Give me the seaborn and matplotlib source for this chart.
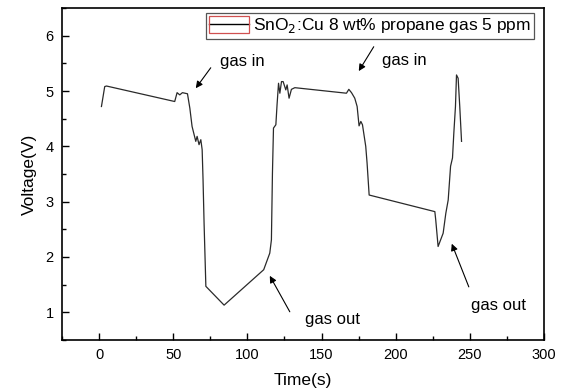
import matplotlib
matplotlib.use("Agg")
import matplotlib.pyplot as plt
import seaborn as sns
import pandas as pd
from matplotlib.legend_handler import HandlerLine2D
from matplotlib.patches import Rectangle
from matplotlib.ticker import MultipleLocator

time_s = [1.6, 3.8, 5.0, 51.0, 52.6, 54.4, 56.2, 59.6, 61.2, 62.7, 65.2, 66.1, 67.4, 68.6,
          69.5, 70.1, 70.8, 72.0, 84.3, 111.0, 115.1, 116.2, 116.9, 117.6, 119.2, 120.0,
          121.0, 121.9, 123.0, 124.1, 125.9, 126.8, 128.1, 129.7, 132.0, 166.8, 168.4,
          170.2, 172.4, 174.0, 175.3, 176.5, 177.6, 179.8, 180.7, 182.1, 226.4, 227.0,
          228.6, 232.0, 233.8, 235.4, 237.0, 238.3, 239.2, 240.3, 241.0, 242.1, 243.2, 244.4]
voltage = [4.72, 5.08, 5.09, 4.81, 4.97, 4.93, 4.97, 4.95, 4.69, 4.36, 4.09, 4.18, 4.03, 4.12,
           3.94, 3.40, 2.61, 1.47, 1.13, 1.77, 2.07, 2.31, 3.52, 4.33, 4.39, 4.75,
           5.14, 4.96, 5.17, 5.17, 5.02, 5.11, 4.87, 5.03, 5.06, 4.96, 5.03,
           4.97, 4.87, 4.72, 4.37, 4.45, 4.39, 4.00, 3.70, 3.12, 2.82, 2.67,
           2.19, 2.43, 2.79, 3.03, 3.64, 3.79, 4.24, 4.72, 5.29, 5.23, 4.72, 4.09]

series_label = "SnO$_2$:Cu 8 wt% propane gas 5 ppm"

# annotations: text, text position (x, y), arrow tail, arrow head
notes = ["gas in", "gas in", "gas out", "gas out"]
note_xy = [(81.4, 5.53), (190.6, 5.56), (138.6, 0.87), (250.6, 1.13)]
arrow_tail = [(75.3, 5.42), (185.2, 5.80), (128.6, 1.01), (249.3, 1.46)]
arrow_head = [(65.2, 5.05), (175.1, 5.36), (115.1, 1.66), (237.8, 2.24)]

plt.rcParams['font.family'] = ['Liberation Sans', 'DejaVu Sans']

df = pd.DataFrame({"Time(s)": time_s, "Voltage(V)": voltage})

fig = plt.figure(figsize=(5.63, 3.9), dpi=100)
ax = fig.add_axes([62/563, 1 - 340/390, (544-62)/563, (340-8)/390])
sns.lineplot(data=df, x="Time(s)", y="Voltage(V)", sort=False, estimator=None,
             color="#2a2a2a", linewidth=0.9, ax=ax, label=series_label)

ax.set_xlim(-25, 300)
ax.set_ylim(0.5, 6.5)
ax.xaxis.set_major_locator(MultipleLocator(50))
ax.xaxis.set_minor_locator(MultipleLocator(25))
ax.yaxis.set_major_locator(MultipleLocator(1))
ax.yaxis.set_minor_locator(MultipleLocator(0.5))
ax.tick_params(which='both', direction='in', top=False, right=False, labelsize=10.5)
ax.tick_params(which='major', length=5, width=1, pad=6)
ax.tick_params(which='minor', length=3, width=1)
for s in ax.spines.values():
    s.set_linewidth(1.2)
ax.set_xlabel("Time(s)", fontsize=12.5, labelpad=8)
ax.set_ylabel("Voltage(V)", fontsize=12.5, labelpad=6)


class BoxedLine(HandlerLine2D):
    def create_artists(self, legend, orig_handle, xdescent, ydescent, width, height, fontsize, trans):
        arts = super().create_artists(legend, orig_handle, xdescent, ydescent, width, height, fontsize, trans)
        yc = arts[0].get_ydata()[0]
        h = fontsize * 1.0
        r = Rectangle((-xdescent, yc - h / 2), width, h,
                      fill=False, edgecolor="#d05050", linewidth=0.9, transform=trans)
        return list(arts) + [r]


leg = ax.legend(loc="upper right", bbox_to_anchor=(0.979, 0.985), borderaxespad=0,
                fontsize=12.5, frameon=True, fancybox=False, edgecolor="#555555",
                framealpha=1, handlelength=2.3, handletextpad=0.2, borderpad=0.2,
                handler_map={plt.Line2D: BoxedLine()})
leg.get_frame().set_linewidth(0.9)
for ln in leg.get_lines():
    ln.set_color("black")
    ln.set_linewidth(1.0)

for txt, (tx, ty), tail, head in zip(notes, note_xy, arrow_tail, arrow_head):
    ax.text(tx, ty, txt, fontsize=12, ha="left", va="center")
    ax.annotate("", xy=head, xytext=tail,
                arrowprops=dict(arrowstyle="-|>", color="black", lw=0.8,
                                mutation_scale=10, shrinkA=0, shrinkB=0))

fig.savefig("out.png", dpi=100)
